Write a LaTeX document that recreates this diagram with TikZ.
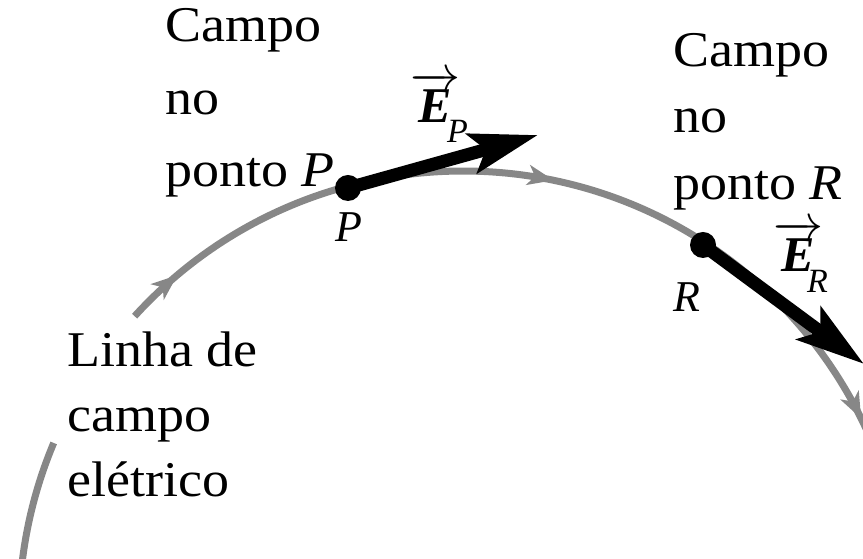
\RequirePackage{fix-cm}
\documentclass[tikz,border=0pt]{standalone}
\usepackage{fontspec}
\setmainfont{Liberation Serif}
\usepackage{amsmath}
\usetikzlibrary{arrows.meta,decorations.markings}
\definecolor{linegray}{RGB}{135,135,135}
\tikzset{
  txt/.style={font=\fontsize{50}{60}\selectfont, anchor=base west, inner sep=0pt, xscale=1.08, transform shape},
  ptlbl/.style={font=\fontsize{44}{50}\selectfont\itshape, anchor=base west, inner sep=0pt},
  sublbl/.style={font=\fontsize{34}{40}\selectfont\itshape, anchor=base west, inner sep=0pt},
  veclbl/.style={font=\fontsize{50}{60}\selectfont, anchor=base west, inner sep=0pt},
  fieldline/.style={draw=linegray, line width=7pt},
  evec/.style={line width=13pt, -{Stealth[length=68pt,width=40pt,inset=14pt]}},
  dotpt/.style={circle, fill=black, inner sep=0pt, minimum size=26pt},
  flowtip/.style={decoration={markings,
      mark=at position 0.064 with {\arrow[linegray]{Stealth[length=26pt,width=20pt,inset=7pt]}},
      mark=at position 0.497 with {\arrow[linegray]{Stealth[length=26pt,width=20pt,inset=7pt]}},
      mark=at position 0.931 with {\arrow[linegray]{Stealth[length=26pt,width=20pt,inset=7pt]}}},
    postaction={decorate}},
}
\begin{document}
\begin{tikzpicture}[x=1pt,y=1pt]
  \useasboundingbox (0,0) rectangle (863,559);
  \clip (0,0) rectangle (863,559);
  \coordinate (C) at (463,-56);

  % field line
  \draw[fieldline] (C) ++(176:444pt) arc[start angle=176, end angle=157.2, radius=444pt];
  \draw[fieldline, flowtip] (C) ++(137.7:444pt) arc[start angle=137.7, end angle=18, radius=444pt];

  % points and field vectors
  \node[dotpt] (P) at (348,371) {};
  \node[dotpt] (R) at (703,314) {};
  \coordinate (EPtip) at (538,424);
  \coordinate (ERtip) at (864,195);
  \draw[evec] (P.center) -- (EPtip);
  \draw[evec] (R.center) -- (ERtip);

  % point labels
  \node[ptlbl] (Plbl) at (335,317) {P};
  \node[ptlbl] (Rlbl) at (673,247) {R};

  % vector labels
  \node[veclbl] (EP) at (410,436) {$\overrightarrow{\mbox{\bfseries\itshape E}}$};
  \node[sublbl] (EPsub) at (447,416) {P};
  \node[veclbl] (ER) at (773,287) {$\overrightarrow{\mbox{\bfseries\itshape E}}$};
  \node[sublbl] (ERsub) at (807,266) {R};

  % texts
  \node[txt] (t1a) at (165,517) {Campo};
  \node[txt] (t1b) at (165,444) {no};
  \node[txt] (t1c) at (165,372) {ponto \textit{P}};
  \node[txt] (t2a) at (673,492) {Campo};
  \node[txt] (t2b) at (673,426) {no};
  \node[txt] (t2c) at (673,359) {ponto \textit{R}};
  \node[txt] (t3a) at (67,192) {Linha de};
  \node[txt] (t3b) at (67,127) {campo};
  \node[txt] (t3c) at (67,62) {elétrico};
\end{tikzpicture}
\end{document}
